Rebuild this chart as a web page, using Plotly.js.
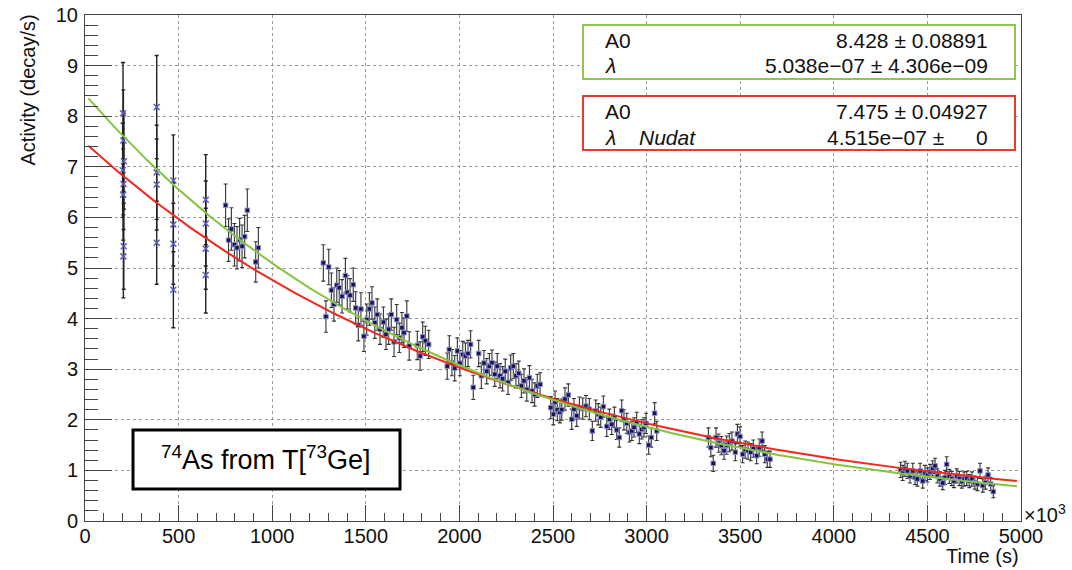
<!DOCTYPE html>
<html>
<head>
<meta charset="utf-8">
<script src="https://cdn.plot.ly/plotly-3.0.1.min.js"></script>
<style>
  html, body { margin: 0; padding: 0; background: #fff; }
  #chart { width: 1072px; height: 570px; }
</style>
</head>
<body>
<div id="chart"></div>
<script>
// ---- Data (time in units of 10^3 s, activity in decay/s) ----
// Early measurements (drawn with cross markers)
const earlyTime = [203, 205, 208, 201, 206, 204, 207, 205,
                   383, 383, 383, 383,
                   472, 472, 472, 472,
                   645, 645, 645, 645];
const earlyActivity = [8.06, 7.52, 7.11, 6.93, 6.66, 6.45, 5.43, 5.23,
                       8.18, 6.89, 6.65, 5.50,
                       6.73, 5.86, 5.48, 4.57,
                       6.35, 5.88, 5.38, 4.86];
const earlyError = [1.00, 1.00, 0.95, 0.93, 0.90, 0.90, 0.85, 0.82,
                    1.02, 0.93, 0.90, 0.82,
                    0.90, 0.82, 0.80, 0.75,
                    0.89, 0.84, 0.80, 0.75];

// Later measurements (drawn with square markers)
const lateTime = [
  751, 767, 782, 798, 812, 826, 839, 853, 867, 912, 926,
  1273, 1287, 1302, 1316, 1330, 1345, 1358, 1373, 1391, 1401, 1416, 1433, 1446, 1460, 1474,
  1490, 1505, 1519, 1533, 1548, 1561, 1576, 1594, 1608, 1622, 1636, 1651, 1665, 1679, 1693,
  1704, 1719, 1732, 1775, 1790, 1804, 1818, 1836,
  1935, 1946, 1960, 1975, 1989, 2003, 2018, 2032, 2046, 2060, 2074, 2103, 2117, 2131, 2146,
  2160, 2174, 2189, 2202, 2217, 2231, 2245, 2260, 2274, 2288, 2302, 2317, 2331, 2345, 2360,
  2374, 2388, 2402, 2416, 2431, 2488, 2502, 2511, 2523, 2537,
  2547, 2564, 2582, 2600, 2612, 2627, 2641, 2659, 2676, 2694, 2710, 2728, 2742, 2755, 2769,
  2787, 2801, 2814, 2828, 2840, 2854, 2867, 2879, 2894, 2908, 2921, 2933, 2947, 2961, 2974,
  2986, 2997, 3011, 3025, 3043, 3054,
  3330, 3343, 3356, 3371, 3385, 3399, 3414, 3428, 3442, 3456, 3474, 3485, 3499, 3513, 3527,
  3542, 3556, 3570, 3588, 3602, 3617, 3631, 3645, 3659,
  4357, 4368, 4380, 4393, 4407, 4422, 4434, 4446, 4461, 4475, 4487, 4500, 4514, 4528, 4541,
  4553, 4567, 4582, 4594, 4603, 4617, 4630, 4642, 4657, 4671, 4684, 4696, 4710, 4724, 4738,
  4753, 4767, 4781, 4796, 4810, 4824, 4838, 4852
];
const lateActivity = [
  6.24, 5.55, 5.77, 5.46, 5.40, 5.56, 5.43, 5.62, 6.14, 5.12, 5.40,
  5.10, 4.04, 5.02, 4.56, 4.28, 4.66, 4.61, 4.44, 4.85, 4.52, 4.46, 4.67, 4.21, 3.87, 4.19,
  3.65, 3.98, 4.19, 4.31, 3.92, 4.08, 3.79, 3.93, 3.69, 3.79, 4.08, 3.54, 3.98, 3.62, 3.82,
  3.72, 4.05, 3.46, 3.47, 3.26, 3.64, 3.56, 3.49,
  3.06, 3.39, 3.13, 3.02, 3.36, 3.12, 3.29, 3.26, 3.31, 3.49, 2.64, 3.31, 2.87, 3.12, 2.96,
  3.06, 3.13, 2.90, 3.06, 2.87, 2.81, 2.96, 2.74, 3.03, 3.06, 2.87, 2.92, 2.67, 2.77, 2.60,
  2.83, 2.57, 2.50, 2.67, 2.70, 2.24, 2.11, 2.35, 2.20, 2.15,
  2.20, 2.41, 2.49, 2.01, 2.21, 2.08, 2.24, 2.22, 2.27, 2.21, 1.78, 2.18, 2.11, 2.05, 2.26,
  1.87, 2.01, 1.91, 2.05, 1.80, 1.65, 2.18, 2.00, 1.93, 1.75, 1.78, 1.85, 1.95, 1.72, 1.81,
  1.85, 1.93, 1.50, 1.65, 2.13, 1.78,
  1.65, 1.45, 1.14, 1.65, 1.54, 1.49, 1.39, 1.50, 1.55, 1.58, 1.36, 1.72, 1.67, 1.32, 1.41,
  1.39, 1.36, 1.43, 1.29, 1.45, 1.58, 1.32, 1.22, 1.22,
  1.01, 0.95, 1.03, 0.99, 0.89, 0.99, 0.86, 0.83, 0.99, 0.79, 0.95, 0.91, 0.97, 1.04, 1.09,
  0.89, 0.83, 0.75, 0.86, 1.12, 0.88, 0.84, 0.79, 0.89, 0.84, 0.78, 0.83, 0.84, 0.79, 0.83,
  0.76, 0.73, 0.99, 0.70, 0.76, 0.91, 0.73, 0.58
];
const lateError = [
  0.42, 0.42, 0.42, 0.42, 0.42, 0.42, 0.42, 0.42, 0.42, 0.40, 0.40,
  0.36, 0.31, 0.35, 0.34, 0.33, 0.34, 0.34, 0.33, 0.34, 0.33, 0.33, 0.33, 0.32, 0.31, 0.32,
  0.30, 0.31, 0.32, 0.32, 0.31, 0.31, 0.30, 0.30, 0.30, 0.30, 0.31, 0.29, 0.30, 0.29, 0.30,
  0.29, 0.30, 0.28, 0.28, 0.28, 0.29, 0.29, 0.28,
  0.26, 0.27, 0.26, 0.25, 0.26, 0.25, 0.26, 0.26, 0.26, 0.27, 0.24, 0.26, 0.25, 0.25, 0.25,
  0.25, 0.25, 0.24, 0.25, 0.24, 0.24, 0.24, 0.24, 0.25, 0.25, 0.24, 0.24, 0.23, 0.24, 0.23,
  0.24, 0.23, 0.23, 0.23, 0.23, 0.22, 0.21, 0.22, 0.22, 0.21,
  0.21, 0.22, 0.22, 0.20, 0.21, 0.21, 0.21, 0.21, 0.21, 0.21, 0.19, 0.21, 0.21, 0.20, 0.21,
  0.20, 0.20, 0.20, 0.20, 0.19, 0.19, 0.21, 0.20, 0.20, 0.19, 0.19, 0.19, 0.20, 0.19, 0.19,
  0.19, 0.20, 0.18, 0.19, 0.21, 0.19,
  0.19, 0.18, 0.16, 0.19, 0.18, 0.18, 0.17, 0.18, 0.18, 0.18, 0.17, 0.19, 0.19, 0.17, 0.17,
  0.17, 0.17, 0.17, 0.16, 0.17, 0.18, 0.17, 0.16, 0.16,
  0.15, 0.15, 0.15, 0.15, 0.14, 0.15, 0.14, 0.14, 0.15, 0.14, 0.15, 0.14, 0.15, 0.15, 0.15,
  0.14, 0.14, 0.13, 0.14, 0.15, 0.14, 0.14, 0.13, 0.14, 0.14, 0.13, 0.14, 0.14, 0.13, 0.14,
  0.13, 0.13, 0.15, 0.13, 0.13, 0.14, 0.13, 0.12
];

// Fit parameters shown in the stat boxes
const fitFreeA0 = 8.428, fitFreeLambda = 5.038e-07;    // green: free fit
const fitNudatA0 = 7.475, fitNudatLambda = 4.515e-07;  // red: lambda fixed to Nudat
const fitRange = [18, 4980];                           // 10^3 s
const xTicks = [0, 500, 1000, 1500, 2000, 2500, 3000, 3500, 4000, 4500, 5000];
const yTicks = [0, 1, 2, 3, 4, 5, 6, 7, 8, 9, 10];

// ---- Fit curves evaluated from the displayed parameters ----
function fitCurve(A0, lam) {
  const xs = [], ys = [];
  for (let t = fitRange[0]; t <= fitRange[1]; t += 10) {
    xs.push(t);
    ys.push(A0 * Math.exp(-lam * t * 1000));
  }
  return {xs, ys};
}
const green = fitCurve(fitFreeA0, fitFreeLambda);
const red = fitCurve(fitNudatA0, fitNudatLambda);

const FONT = '"Liberation Sans", Arial, Helvetica, sans-serif';

const traces = [
  {
    x: earlyTime, y: earlyActivity, type: 'scatter', mode: 'markers',
    error_y: {type: 'data', array: earlyError, visible: true, color: '#222', thickness: 1.4, width: 2},
    marker: {symbol: 'x-thin-open', size: 6, color: '#5c5cc0', line: {color: '#5c5cc0', width: 1.5}},
    hoverinfo: 'x+y'
  },
  {
    x: lateTime, y: lateActivity, type: 'scatter', mode: 'markers',
    error_y: {type: 'data', array: lateError, visible: true, color: '#333', thickness: 1.1, width: 2},
    marker: {symbol: 'square', size: 4.5, color: '#16164e', line: {color: '#8a8ad0', width: 1}},
    hoverinfo: 'x+y'
  },
  {
    x: red.xs, y: red.ys, type: 'scatter', mode: 'lines',
    line: {color: '#f2281e', width: 2}, hoverinfo: 'skip'
  },
  {
    x: green.xs, y: green.ys, type: 'scatter', mode: 'lines',
    line: {color: '#84c440', width: 2}, hoverinfo: 'skip'
  }
];

// Plot area in pixels: x 85..1021, y 15..521
const L = 85, R = 1021, T = 15, B = 521;
const px = v => (v - L) / (R - L);
const py = v => (B - v) / (B - T);

const boxFont = {family: FONT, size: 21, color: '#111'};
function txt(x, y, text, anchor, extra) {
  return Object.assign({xref: 'paper', yref: 'paper', x: px(x), y: py(y), text: text,
    showarrow: false, xanchor: anchor, yanchor: 'middle', font: boxFont}, extra || {});
}

const layout = {
  width: 1072, height: 570,
  margin: {l: L, r: 1072 - R, t: T, b: 570 - B},
  paper_bgcolor: '#ffffff', plot_bgcolor: '#ffffff',
  showlegend: false,
  font: {family: FONT, size: 20, color: '#111'},
  xaxis: {
    range: [0, 5000], tickvals: xTicks, ticktext: xTicks.map(String),
    ticks: 'inside', ticklen: 16, tickwidth: 1, tickcolor: '#444',
    minor: {dtick: 100, tick0: 0, ticks: 'inside', ticklen: 8, tickcolor: '#444', showgrid: false},
    showgrid: true, gridcolor: '#9a9a9a', griddash: 'dot', gridwidth: 1,
    zeroline: false, showline: true, linecolor: '#444', linewidth: 1, mirror: true,
    tickfont: {family: FONT, size: 20, color: '#111'},
    ticklabelstandoff: -3
  },
  yaxis: {
    range: [0, 10], tickvals: yTicks, ticktext: yTicks.map(String),
    ticks: 'inside', ticklen: 27, tickwidth: 1, tickcolor: '#444',
    minor: {dtick: 0.2, tick0: 0, ticks: 'inside', ticklen: 13, tickcolor: '#444', showgrid: false},
    showgrid: true, gridcolor: '#9a9a9a', griddash: 'dot', gridwidth: 1,
    zeroline: false, showline: true, linecolor: '#444', linewidth: 1, mirror: true,
    tickfont: {family: FONT, size: 20, color: '#111'},
    ticklabelstandoff: 2
  },
  shapes: [
    {type: 'rect', xref: 'paper', yref: 'paper', x0: px(583), x1: px(1015), y0: py(79), y1: py(25),
     fillcolor: '#ffffff', line: {color: '#8cc653', width: 2}, layer: 'above'},
    {type: 'rect', xref: 'paper', yref: 'paper', x0: px(583), x1: px(1015), y0: py(150), y1: py(96),
     fillcolor: '#ffffff', line: {color: '#ea3a2a', width: 2}, layer: 'above'},
    {type: 'rect', xref: 'paper', yref: 'paper', x0: px(133), x1: px(400), y0: py(489), y1: py(430),
     fillcolor: '#ffffff', line: {color: '#000000', width: 3}, layer: 'above'}
  ],
  annotations: [
    txt(603, 40, 'A0', 'left'),
    txt(990, 40, fitFreeA0.toFixed(3) + ' ± 0.08891', 'right'),
    txt(603, 66, '<i>λ</i>', 'left'),
    txt(990, 66, '5.038e−07 ± 4.306e−09', 'right'),
    txt(603, 111, 'A0', 'left'),
    txt(990, 111, fitNudatA0.toFixed(3) + ' ± 0.04927', 'right'),
    txt(603, 137, '<i>λ</i>', 'left'),
    txt(637, 137, '<i>Nudat</i>', 'left'),
    txt(946, 137, '4.515e−07 ±', 'right'),
    txt(990, 137, '0', 'right'),
    txt(266, 458, '<sup>74</sup>As from T[<sup>73</sup>Ge]', 'center', {font: {family: FONT, size: 27, color: '#000'}}),
    {xref: 'paper', yref: 'paper', x: px(27), y: py(13), text: 'Activity (decay/s)', textangle: -90,
     showarrow: false, xanchor: 'center', yanchor: 'top', font: {family: FONT, size: 20, color: '#111'}},
    {xref: 'paper', yref: 'paper', x: 1, y: py(556), text: 'Time (s)',
     showarrow: false, xanchor: 'right', yanchor: 'middle', font: {family: FONT, size: 20, color: '#111'}},
    {xref: 'paper', yref: 'paper', x: px(1022), y: py(513), text: '×10<sup>3</sup>',
     showarrow: false, xanchor: 'left', yanchor: 'middle', font: {family: FONT, size: 20, color: '#111'}}
  ]
};

Plotly.newPlot('chart', traces, layout, {displayModeBar: false, staticPlot: true});
</script>
</body>
</html>
